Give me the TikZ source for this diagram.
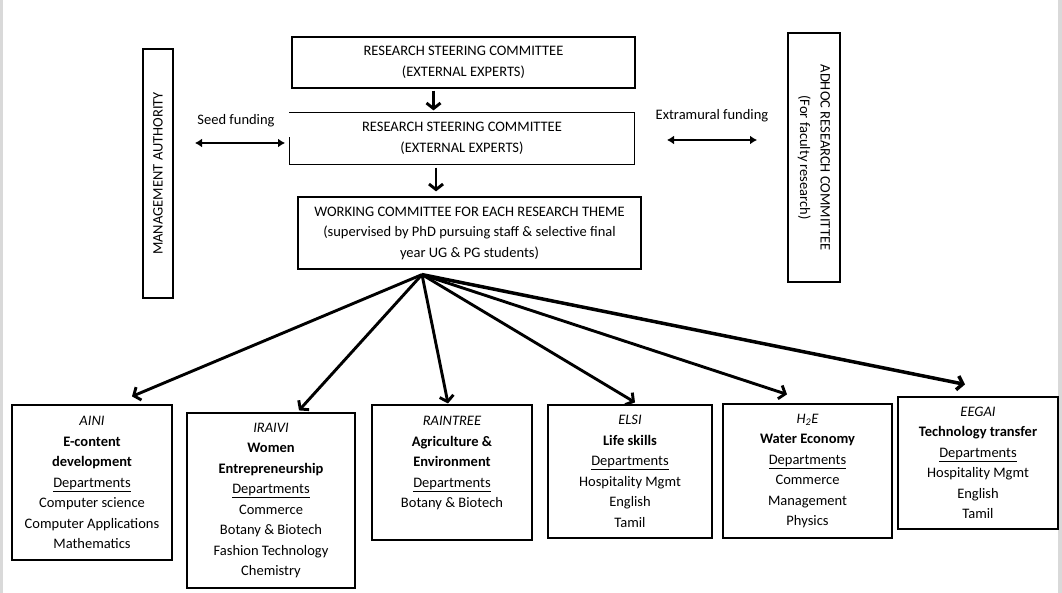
\documentclass[tikz,border=0pt]{standalone}
\usepackage{fontspec}
\setmainfont{Carlito}
\usetikzlibrary{arrows.meta,calc}
\tikzset{
  txt/.style={font=\fontsize{14.5}{20.5}\selectfont, align=center, inner sep=0pt},
  box/.style={txt, draw, line width=1.2pt, minimum width=#1},
  box/.default=100pt,
  arr/.style={line width=2.9pt, -{Straight Barb[length=5.5pt,width=14pt]}},
  dbl/.style={line width=2.7pt, {Latex[length=7pt,width=9pt]}-{Latex[length=7pt,width=9pt]}}
}
\begin{document}
\begin{tikzpicture}[x=1pt,y=-1pt]
\useasboundingbox (0,0) rectangle (1062,593);
\fill[black!15] (0,0) rectangle (3,593);
\fill[black!15] (1058,0) rectangle (1062,593);
% top chain
\node[box=343pt, minimum height=51pt] (b1) at (463.5,62.5) {RESEARCH STEERING COMMITTEE\\(EXTERNAL EXPERTS)};
\node[box=344pt, minimum height=51pt, draw=none] (b2) at (462,138.5) {RESEARCH STEERING COMMITTEE\\(EXTERNAL EXPERTS)};
\draw[line width=1.2pt] ($(b2.north west)+(0,25)$) -- (b2.south west) -- (b2.south east) -- (b2.north east) -- (b2.north west);
\node[box=343pt, minimum height=72pt] (b3) at (469.5,233) {WORKING COMMITTEE FOR EACH RESEARCH THEME\\(supervised by PhD pursuing staff \& selective final\\year UG \& PG students)};
% side boxes
\node[box=249pt, minimum height=30pt, rotate=90] (ma) at (158,173.5) {MANAGEMENT AUTHORITY};
\node[box=249pt, minimum height=52pt, rotate=-90] (ad) at (814,157.5) {ADHOC RESEARCH COMMITTEE\\(For faculty research)};
% funding labels
\node[txt] (seed) at (236,121) {Seed funding};
\node[txt] (extra) at (712,116) {Extramural funding};
\coordinate (sL) at (195,143);
\coordinate (sR) at (285,143);
\coordinate (eL) at (667,140);
\coordinate (eR) at (757,140);
\draw[dbl] (sL) -- (sR);
\draw[dbl] (eL) -- (eR);
% vertical arrows
\draw[arr] ($(b1.south)+(-30,2)$) -- ($(b2.north)+(-28.5,-2)$);
\draw[arr] ($(b2.south)+(-26,3)$) -- ($(b3.north)+(-33.5,-5)$);
% theme boxes
\node[box=160pt, minimum height=155pt] (t1) at (92,482.5) {\textit{AINI}\\\textbf{E-content}\\\textbf{development}\\\underline{Departments}\\Computer science\\Computer Applications\\Mathematics};
\node[box=168pt, minimum height=175pt] (t2) at (271,500.5) {\textit{IRAIVI}\\\textbf{Women}\\\textbf{Entrepreneurship}\\\underline{Departments}\\Commerce\\Botany \& Biotech\\Fashion Technology\\Chemistry};
\node[box=160pt, minimum height=135pt] (t3) at (452,472.5) {\textit{RAINTREE}\\\textbf{Agriculture \&}\\\textbf{Environment}\\\underline{Departments}\\Botany \& Biotech\\\phantom{X}};
\node[box=164pt, minimum height=133pt] (t4) at (630,471.5) {\textit{ELSI}\\\textbf{Life skills}\\\underline{Departments}\\Hospitality Mgmt\\English\\Tamil};
\node[box=169pt, minimum height=134pt] (t5) at (807.5,471) {\textit{H\textsubscript{2}E}\\\textbf{Water Economy}\\\underline{Departments}\\Commerce\\Management\\Physics};
\node[box=160pt, minimum height=132pt] (t6) at (978,463) {\textit{EEGAI}\\\textbf{Technology transfer}\\\underline{Departments}\\Hospitality Mgmt\\English\\Tamil};
% fan
\coordinate (fan) at ($(b3.south)+(-47.5,5)$);
\draw[arr] (fan) -- ($(t1.north)+(40,-8)$);
\draw[arr] (fan) -- ($(t2.north)+(28,-2)$);
\draw[arr] (fan) -- ($(t3.north)+(-4,-1)$);
\draw[arr] (fan) -- ($(t4.north)+(5,-2)$);
\draw[arr] (fan) -- ($(t5.north)+(-20.5,-9)$);
\draw[arr, line width=3.5pt] (fan) -- ($(t6.north)+(-13,-12)$);
\end{tikzpicture}
\end{document}
